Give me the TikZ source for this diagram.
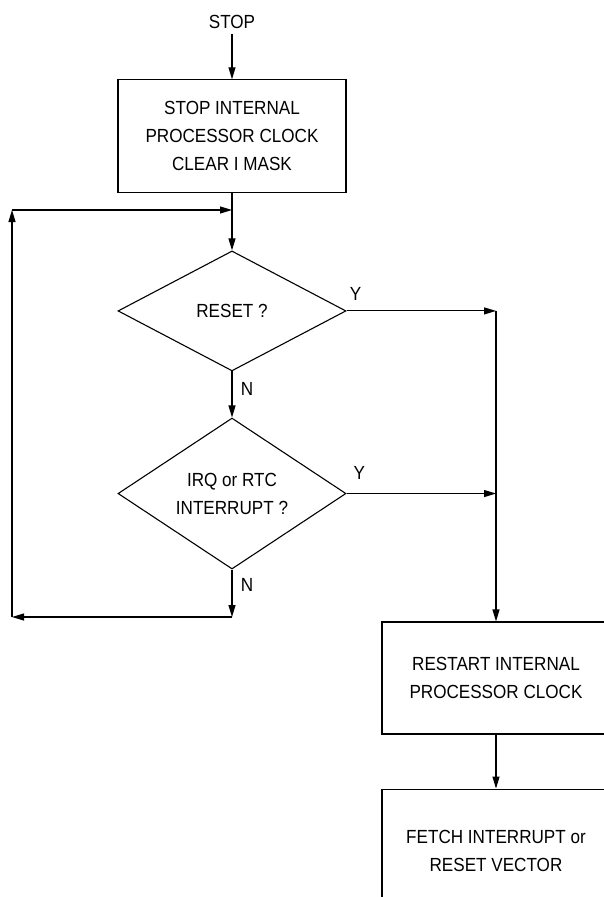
\documentclass[tikz,border=0pt]{standalone}
\usepackage{fontspec}
\setmainfont[FakeStretch=0.9]{Liberation Sans}
\usetikzlibrary{shapes.geometric,positioning,arrows.meta}

\begin{document}
\begin{tikzpicture}[x=1pt, y=1pt, line width=1.1pt, >={Triangle[length=12pt,width=7pt]},
                    node distance=50pt,
                    box/.style={rectangle, draw, minimum width=228pt, minimum height=113pt, align=center},
                    decision/.style={diamond, draw, aspect=1.5, inner sep=0pt, minimum width=228pt, align=center}]
\tikzstyle{every node}=[font=\fontsize{19}{28}\selectfont]
\useasboundingbox (0,0) rectangle (604,-897);
\clip (0,0) rectangle (604,-897);
\node [inner sep=5pt] (stop) at (232,-22) {STOP};
\node [box] (halt) [below=45pt of stop] {STOP INTERNAL\\PROCESSOR CLOCK\\CLEAR I MASK};
\node [decision, minimum height=120pt] (reset) [below=57pt of halt] {RESET ?};
\node [decision, minimum height=151pt] (irq) [below=46pt of reset] {IRQ or RTC\\INTERRUPT ?};
\node [box, minimum height=112pt] (restart) at (496,-678) {RESTART INTERNAL\\PROCESSOR CLOCK};
\node [box, minimum height=124pt] (fetch) [below=54pt of restart] {FETCH INTERRUPT or\\RESET VECTOR};

\coordinate (join) at (halt.south |- 0,-210);
\coordinate (nback) at (irq.south |- 0,-617);
\coordinate (lbot) at (12,-617);
\coordinate (ltop) at (12,-210);
\coordinate (yes1) at (restart.north |- reset.east);
\coordinate (yes2) at (restart.north |- irq.east);

\draw[->] (stop) -- (halt);
\draw[->] (halt) -- (reset);
\draw[->] (reset) -- node[right=5pt, pos=0.37] {N} (irq);
\draw[->] (irq) -- node[right=5pt, pos=0.33] {N} (nback);
\draw[->] (nback) -- (lbot);
\draw[->] (lbot) -- (ltop);
\draw[->] (ltop) -- (join);

\draw[->] (reset.east) -- node[above=7pt, pos=0.06] {Y} (yes1);
\draw[->] (irq.east) -- node[above=10pt, pos=0.085] {Y} (yes2);
\draw[->] (yes1) -- (restart);
\draw[->] (restart) -- (fetch);
\end{tikzpicture}
\end{document}
